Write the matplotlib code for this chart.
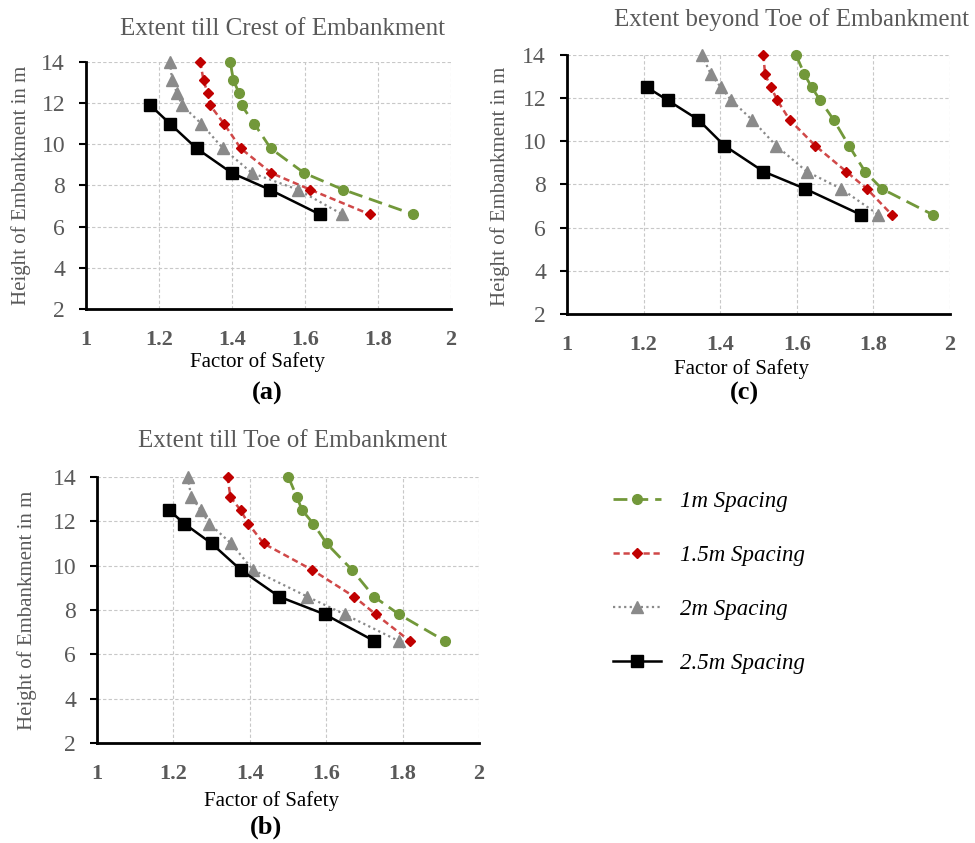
import matplotlib as mpl
mpl.use('Agg')
import matplotlib.pyplot as plt
import numpy as np

plt.rcParams['font.family'] = ['Liberation Serif', 'DejaVu Serif']

# heights of embankment (m)
h_full = [14, 13.1, 12.5, 11.9, 11.0, 9.8, 8.6, 7.8, 6.6]
h_b7 = [12.5, 11.9, 11.0, 9.8, 8.6, 7.8, 6.6]
h_b6 = [11.9, 11.0, 9.8, 8.6, 7.8, 6.6]

# (a) extent till crest
a_1m = [1.395, 1.404, 1.419, 1.426, 1.461, 1.506, 1.598, 1.704, 1.896]
a_15m = [1.313, 1.322, 1.333, 1.340, 1.378, 1.424, 1.508, 1.614, 1.777]
a_2m = [1.230, 1.236, 1.249, 1.263, 1.316, 1.375, 1.455, 1.580, 1.702]
a_25m = [1.176, 1.230, 1.303, 1.400, 1.503, 1.640]

# (b) extent till toe
b_1m = [1.501, 1.523, 1.537, 1.566, 1.601, 1.668, 1.725, 1.791, 1.911]
b_15m = [1.342, 1.349, 1.376, 1.396, 1.436, 1.564, 1.673, 1.730, 1.819]
b_2m = [1.237, 1.247, 1.272, 1.294, 1.351, 1.409, 1.551, 1.649, 1.790]
b_25m = [1.189, 1.228, 1.300, 1.377, 1.477, 1.597, 1.726]

# (c) extent beyond toe
c_1m = [1.598, 1.620, 1.639, 1.661, 1.696, 1.736, 1.778, 1.822, 1.955]
c_15m = [1.513, 1.517, 1.533, 1.549, 1.581, 1.648, 1.729, 1.783, 1.848]
c_2m = [1.352, 1.376, 1.402, 1.429, 1.483, 1.546, 1.626, 1.716, 1.813]
c_25m = [1.209, 1.263, 1.343, 1.411, 1.513, 1.622, 1.767]

labels = ['1m Spacing', '1.5m Spacing', '2m Spacing', '2.5m Spacing']

GREEN = '#72983A'
RED = '#C00000'
REDLINE = '#D04848'
GRAY = '#8A8A8A'
TXT = '#595959'

fig = plt.figure(figsize=(9.75, 8.43), dpi=100)


def panel(rect, s1, s15, s2, s25, h25):
    ax = fig.add_axes(rect)
    l1, = ax.plot(s1, h_full, color=GREEN, lw=2, marker='o', ms=7,
                  dashes=(5, 2.5), clip_on=False, zorder=3)
    l2, = ax.plot(s15, h_full, color=REDLINE, lw=1.8, marker='D', ms=5.5,
                  mfc=RED, mec=RED, dashes=(2.5, 1.5), clip_on=False, zorder=3)
    l3, = ax.plot(s2, h_full, color=GRAY, lw=1.6, marker='^', ms=8,
                  dashes=(1, 1.5), clip_on=False, zorder=3)
    l4, = ax.plot(s25, h25, color='black', lw=1.8, marker='s', ms=8,
                  clip_on=False, zorder=3)
    ax.set_xlim(1, 2)
    ax.set_ylim(2, 14)
    ax.set_xticks(np.arange(1, 2.01, 0.2))
    ax.set_xticklabels(['1', '1.2', '1.4', '1.6', '1.8', '2'])
    ax.set_yticks(range(2, 15, 2))
    ax.grid(True, color='#C8C8C8', lw=0.8, ls=(0, (3, 2)))
    ax.set_axisbelow(True)
    for s in ['top', 'right']:
        ax.spines[s].set_visible(False)
    for s in ['left', 'bottom']:
        ax.spines[s].set_linewidth(2)
    ax.tick_params(axis='y', length=5, width=1.5, pad=10, labelsize=17,
                   labelcolor=TXT)
    ax.tick_params(axis='x', length=0, pad=15, labelsize=16, labelcolor=TXT)
    for t in ax.get_xticklabels():
        t.set_fontweight('bold')
    return [l1, l2, l3, l4]


panel([0.0882, 0.6335, 0.3744, 0.293], a_1m, a_15m, a_2m, a_25m, h_b6)
panel([0.5815, 0.6275, 0.3929, 0.3073], c_1m, c_15m, c_2m, c_25m, h_b7)
handles = panel([0.0995, 0.1186, 0.3918, 0.3156], b_1m, b_15m, b_2m, b_25m, h_b7)

W, H = 975, 843


def ftext(x, y, s, **kw):
    fig.text(x / W, 1 - y / H, s, ha='center', va='center', **kw)


ftext(282, 29, 'Extent till Crest of Embankment', fontsize=18, color=TXT)
ftext(791, 20, 'Extent beyond Toe of Embankment', fontsize=18, color=TXT)
ftext(293, 441, 'Extent till Toe of Embankment', fontsize=18, color=TXT)

ftext(21, 185, 'Height of Embankment in m', fontsize=15, color=TXT, rotation=90)
ftext(500, 186, 'Height of Embankment in m', fontsize=15, color=TXT, rotation=90)
ftext(27, 610, 'Height of Embankment in m', fontsize=15, color=TXT, rotation=90)

ftext(257, 362, 'Factor of Safety', fontsize=15)
ftext(742, 369, 'Factor of Safety', fontsize=15)
ftext(272, 801, 'Factor of Safety', fontsize=15)

ftext(267, 393, '(a)', fontsize=19, fontweight='bold')
ftext(744, 393, '(c)', fontsize=19, fontweight='bold')
ftext(266, 827, '(b)', fontsize=19, fontweight='bold')

fig.legend(handles, labels, loc='upper left', bbox_to_anchor=(592 / W, 1 - 470 / H),
           frameon=False, prop={'style': 'italic', 'size': 16.5},
           labelspacing=1.45, handlelength=2.1, handletextpad=0.85)

fig.savefig('out.png', dpi=100)
